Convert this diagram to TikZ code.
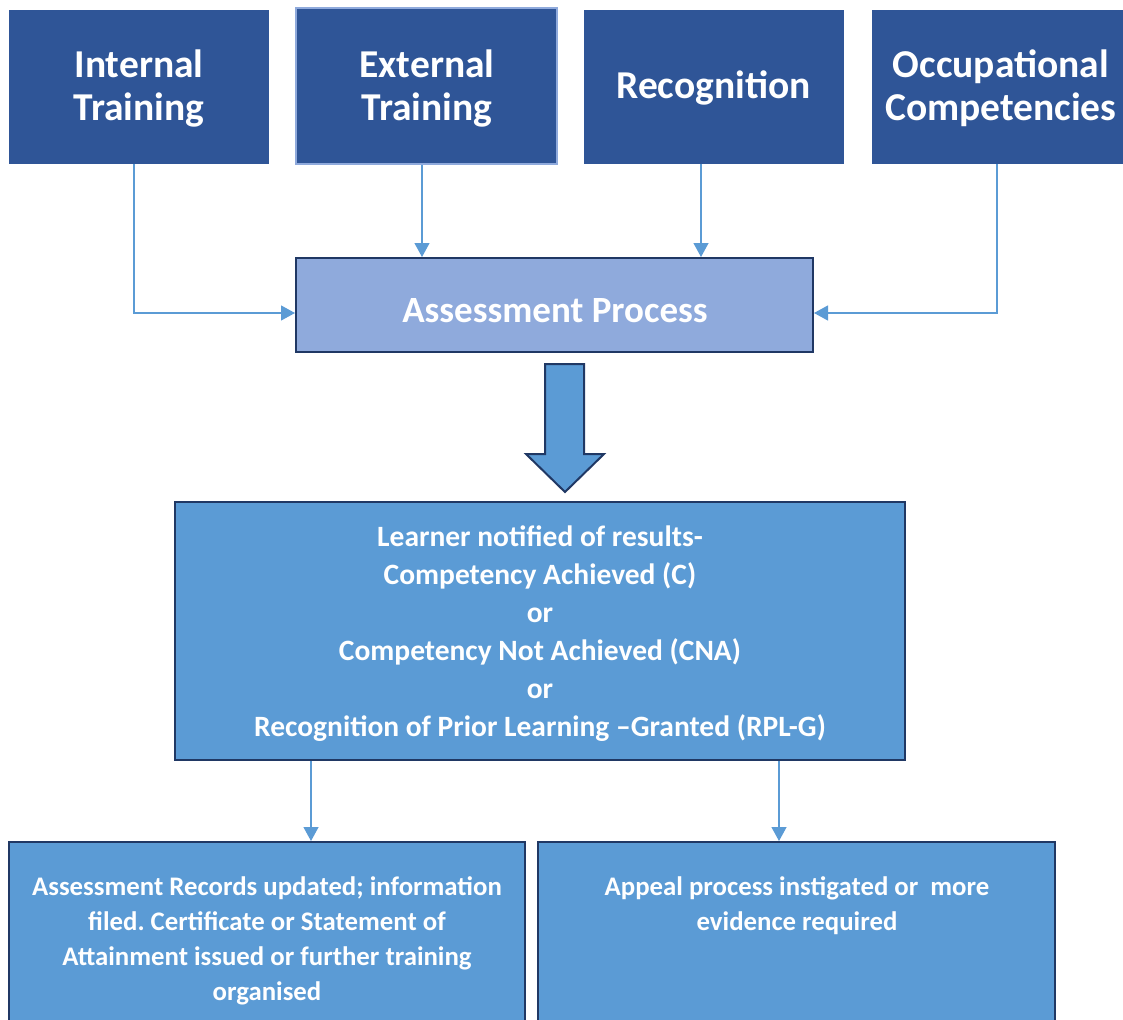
\documentclass[tikz,border=0pt]{standalone}
\usepackage{fontspec}
\setmainfont{Carlito}
\usetikzlibrary{arrows.meta}
\frenchspacing
\definecolor{topblue}{HTML}{2F5597}
\definecolor{lightblue}{HTML}{8FAADC}
\definecolor{midblue}{HTML}{5B9BD5}
\definecolor{darkedge}{HTML}{203864}
\definecolor{lineblue}{HTML}{5B9BD5}
\begin{document}
\begin{tikzpicture}[x=1pt,y=-1pt,
  topbox/.style={fill=topblue, draw=topblue, line width=0.5pt},
  procbox/.style={fill=lightblue, draw=darkedge, line width=2.5pt},
  resbox/.style={fill=midblue, draw=darkedge, line width=2pt},
  toptext/.style={text=white, inner sep=0pt, font=\fontsize{39.5}{43}\selectfont\bfseries, align=center},
  proctext/.style={text=white, inner sep=0pt, font=\fontsize{37}{43}\selectfont\bfseries},
  restext/.style={text=white, inner sep=0pt, font=\fontsize{29.5}{38}\selectfont\bfseries, align=center},
  outtext/.style={text=white, inner sep=0pt, font=\fontsize{26.8}{35}\selectfont\bfseries, align=center},
  conn/.style={draw=lineblue, line width=1.2pt, -{Triangle[length=14pt,width=15pt]}}
]
\useasboundingbox (0,0) rectangle (1123,1019);
\fill[white] (0,0) rectangle (1123,1019);

% top boxes
\path[topbox] (9,10) rectangle (268,163);
\node[toptext] (internal) at (139,88.5) {Internal\\Training};
\path[topbox, draw=lightblue, line width=2pt] (296,8) rectangle (557,164);
\node[toptext] (external) at (427,88.5) {External\\Training};
\path[topbox] (584,10) rectangle (843,163);
\node[toptext] (recog) at (713.5,88) {Recognition};
\path[topbox] (872,10) rectangle (1125,163);
\node[toptext] (occup) at (1001,88.5) {Occupational\\Competencies};

\coordinate (intB) at (134,164);
\coordinate (extB) at (422,165);
\coordinate (recB) at (701,164);
\coordinate (occB) at (997,164);

% assessment
\path[procbox] (296,258) rectangle (813,352);
\node[proctext] (assess) at (555,311) {Assessment Process};
\coordinate (assL) at (295,313);
\coordinate (assR) at (814,313);
\coordinate (assT1) at (422,257);
\coordinate (assT2) at (701,257);

\draw[conn] (intB) |- (assL);
\draw[conn] (extB) -- (assT1);
\draw[conn] (recB) -- (assT2);
\draw[conn] (occB) |- (assR);

% block arrow
\draw[fill=midblue, draw=darkedge, line width=2pt, line join=miter]
  (545,364) -- (584,364) -- (584,454) -- (604,454) -- (565,492) -- (526,454) -- (545,454) -- cycle;

% results
\path[resbox] (175,502) rectangle (905,760);
\node[restext] (results) at (540,634)
  {Learner notified of results-\\Competency Achieved (C)\\or\\Competency Not Achieved (CNA)\\or\\Recognition of Prior Learning –Granted (RPL-G)};
\coordinate (resB1) at (311,761);
\coordinate (resB2) at (779,761);

% outcomes
\path[resbox] (9,842) rectangle (525,1030);
\node[outtext] (records) at (267,941)
  {Assessment Records updated; information\\filed. Certificate or Statement of\\Attainment issued or further training\\organised};
\path[resbox] (538,842) rectangle (1055,1030);
\node[outtext] (appeal) at (797,906)
  {Appeal process instigated or\hspace{0.45em}more\\evidence required};
\coordinate (recT) at (311,841);
\coordinate (appT) at (779,841);

\draw[conn] (resB1) -- (recT);
\draw[conn] (resB2) -- (appT);
\end{tikzpicture}
\end{document}
